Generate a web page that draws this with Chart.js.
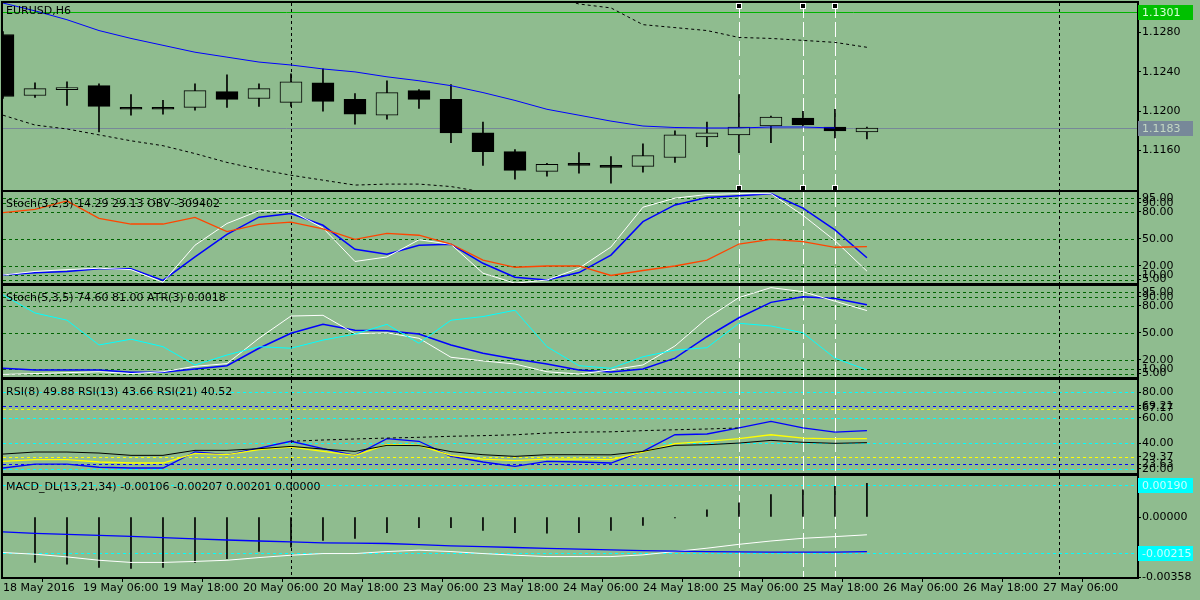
<!DOCTYPE html>
<html>
<head>
<meta charset="utf-8">
<script src="https://cdn.jsdelivr.net/npm/chart.js@4.4.0/dist/chart.umd.min.js"></script>
<style>
  html, body { margin: 0; padding: 0; width: 1200px; height: 600px; overflow: hidden; background: #8fbc8f; }
  canvas { position: absolute; left: 0; }
  .hdr { position: absolute; left: 6px; font: 11px "DejaVu Sans", sans-serif; line-height: 13px; color: #000; white-space: nowrap; z-index: 5; }
</style>
</head>
<body>
<canvas id="main" width="1200" height="205" style="top:-6px"></canvas>
<canvas id="stoch1" width="1200" height="109" style="top:183px"></canvas>
<canvas id="stoch2" width="1200" height="109" style="top:277px"></canvas>
<canvas id="rsi" width="1200" height="111" style="top:371px"></canvas>
<canvas id="macd" width="1200" height="133" style="top:467px"></canvas>

<div class="hdr" style="top:4px">EURUSD,H6</div>
<div class="hdr" style="top:197px">Stoch(3,2,3) 14.29 29.13 OBV -309402</div>
<div class="hdr" style="top:291px">Stoch(5,3,5) 74.60 81.00 ATR(3) 0.0018</div>
<div class="hdr" style="top:385px">RSI(8) 49.88 RSI(13) 43.66 RSI(21) 40.52</div>
<div class="hdr" style="top:480px">MACD_DL(13,21,34) -0.00106 -0.00207 0.00201 0.00000</div>

<script>
// ---- time axis (bar index positions) ----
const TIME_POS = [0, 2.5, 5, 7.5, 10, 12.5, 15, 17.5, 20, 22.5, 25, 27.5, 30, 32.5];
const TIME_LABELS = ["18 May 2016", "19 May 06:00", "19 May 18:00", "20 May 06:00", "20 May 18:00",
  "23 May 06:00", "23 May 18:00", "24 May 06:00", "24 May 18:00", "25 May 06:00",
  "25 May 18:00", "26 May 06:00", "26 May 18:00", "27 May 06:00"];
const X_MIN = 0, X_MAX = 35.44;
const VLINES_BLACK = [9, 33];
const VLINES_WHITE = [23, 25, 26];

// ---- EURUSD H6 candles ----
const OPEN  = [1.1278, 1.1216, 1.1222, 1.1226, 1.1204, 1.1204, 1.1204, 1.1220, 1.1213, 1.1209,
               1.1229, 1.1212, 1.1196, 1.1221, 1.1212, 1.1178, 1.1159, 1.1139, 1.1147, 1.1145,
               1.1144, 1.1153, 1.1174, 1.1176, 1.1185, 1.1193, 1.1184, 1.1179];
const HIGH  = [1.1281, 1.1229, 1.1230, 1.1228, 1.1217, 1.1211, 1.1228, 1.1237, 1.1228, 1.1238,
               1.1243, 1.1218, 1.1231, 1.1222, 1.1227, 1.1189, 1.1161, 1.1147, 1.1158, 1.1154,
               1.1167, 1.1180, 1.1189, 1.1217, 1.1195, 1.1200, 1.1202, 1.1184];
const LOW   = [1.1213, 1.1214, 1.1206, 1.1179, 1.1196, 1.1197, 1.1201, 1.1204, 1.1205, 1.1205,
               1.1200, 1.1187, 1.1192, 1.1203, 1.1168, 1.1145, 1.1131, 1.1134, 1.1137, 1.1127,
               1.1138, 1.1148, 1.1164, 1.1158, 1.1168, 1.1185, 1.1173, 1.1172];
const CLOSE = [1.1215, 1.1223, 1.1224, 1.1205, 1.1202, 1.1202, 1.1221, 1.1212, 1.1223, 1.1230,
               1.1210, 1.1197, 1.1219, 1.1212, 1.1178, 1.1159, 1.1140, 1.1146, 1.1145, 1.1143,
               1.1155, 1.1176, 1.1178, 1.1184, 1.1194, 1.1186, 1.1180, 1.1183];
const MA = [1.1310, 1.1302, 1.1293, 1.1282, 1.1274, 1.1267, 1.1260, 1.1255, 1.1250, 1.1247,
            1.1243, 1.1240, 1.1235, 1.1231, 1.1226, 1.1219, 1.1211, 1.1202, 1.1196, 1.1190,
            1.1185, 1.11835, 1.1183, 1.1183, 1.1184, 1.1184, 1.1183, null];
const BAND_UP = [null, null, null, null, null, null, null, null, null, null,
                 null, null, null, null, null, null, null, 1.1318, 1.1309, 1.1305,
                 1.1288, 1.1285, 1.1282, 1.1275, 1.1274, 1.1272, 1.1270, 1.1265];
const BAND_DN = [1.1196, 1.1186, 1.1182, 1.1176, 1.1170, 1.1165, 1.1157, 1.1148, 1.1141, 1.1135,
                 1.1130, 1.1125, 1.1126, 1.1126, 1.11235, 1.1118, null, null, null, null,
                 null, null, null, null, null, null, null, null];
const MAIN_TICKS = [1.1280, 1.1240, 1.1200, 1.1160];
const PRICE_HIGH = 1.1301;
const PRICE_BID = 1.1183;

// ---- Stoch(3,2,3) + OBV ----
const STOCH1_MAIN = [10, 14, 16, 17.5, 16, 2, 43, 67, 81, 81, 62, 25, 30, 49, 44, 12, 1, 4.5, 17.5, 41,
                     85, 95, 99, 100, 100, 76, 48, 14.29];
const STOCH1_SIG  = [10, 12.5, 14, 17, 17, 4, 30, 55, 74, 78, 65, 38.5, 33, 43, 44, 23, 7.5, 4.5, 12.7, 32,
                     69, 87.5, 95.6, 97.6, 100, 84, 60, 29.13];
const OBV_LINE    = [79, 82.6, 92, 72.7, 66.4, 66.4, 73.8, 58, 66, 68.6, 61, 49.5, 56, 54, 44.3, 26.6, 18.6, 20, 20, 9.5,
                     15, 20, 26.6, 44.3, 49.5, 47, 40.7, 41.4];
const STOCH_LEVELS = [95, 90, 80, 50, 20, 10, 5];

// ---- Stoch(5,3,5) + ATR ----
const STOCH2_MAIN = [4, 5, 6, 7, 5, 7, 13, 16, 44, 68.6, 69.4, 49, 50, 44, 23, 19, 15.6, 7, 4.5, 9,
                     14.5, 35.5, 66, 89, 100, 95.5, 85, 74.6];
const STOCH2_SIG  = [10.8, 9, 9, 9, 6.4, 6.4, 10, 13.7, 33, 49.5, 59.4, 53, 52.4, 48.7, 36.6, 27.4, 21, 15.6, 9, 6.7,
                     10, 22, 45.7, 66.7, 83.7, 90, 88, 81];
const ATR_LINE    = [92, 72, 64, 36.6, 43, 34.7, 14.5, 25.5, 34.7, 33, 42, 48.7, 59.4, 38.5, 64, 68, 75, 34.7, 13.7, 10.8,
                     23.6, 31, 33.6, 60.6, 57.6, 50, 22, 9];

// ---- RSI ----
const RSI8  = [20.7, 23.8, 23.8, 21.3, 20.7, 20.7, 33.2, 31.1, 36.3, 41.6, 35.8, 30.6, 43.6, 41.6, 29.8, 25.4, 22, 25.9, 25.4, 24.6,
               33.7, 46.7, 47.3, 52, 57.2, 52, 48.8, 49.88];
const RSI13 = [25.9, 27.2, 27.2, 25.4, 24.6, 24.6, 32.2, 31.1, 35, 37.1, 33.7, 30.6, 38.9, 38.4, 30.6, 27.7, 26.4, 27.7, 27.7, 27.2,
               33.2, 39.7, 41.6, 43.6, 46.7, 44.1, 43.4, 43.66];
const RSI21 = [31.6, 33.2, 33.2, 32.4, 30.6, 30.6, 34.5, 34.5, 35.8, 37.6, 35.5, 33.7, 38.4, 38.2, 33.5, 31.1, 29.8, 31.1, 31.1, 31,
               33.7, 38.4, 38.9, 40.2, 42.3, 40.8, 40, 40.52];
const RSI_TREND = [null, null, null, null, null, null, null, null, null, 41.6, 42.6, 43.4, 44.1, 44.7, 45.5, 46, 46.7, 48, 48.8, 49,
                   49.9, 50.6, 51.2, 52, null, null, null, null];
const RSI_TICKS = [80, 69.21, 67.17, 60, 40, 29.37, 23.63, 20];

// ---- MACD_DL ----
const MACD_HIST = [null, -0.00271, -0.00281, -0.00301, -0.00307, -0.00301, -0.00271, -0.00248, -0.00206, -0.0018,
                   -0.00139, -0.00127, -0.00093, -0.00064, -0.00064, -0.0008, -0.00093, -0.00097, -0.00093, -0.0008,
                   -0.0005, -0.00005, 0.00043, 0.00085, 0.00134, 0.00162, 0.00184, 0.00201];
const MACD_MAIN = [-0.00212, -0.00222, -0.00238, -0.00258, -0.00271, -0.00271, -0.00265, -0.00258, -0.00242, -0.00228,
                   -0.00218, -0.00218, -0.00206, -0.00198, -0.00206, -0.00218, -0.00228, -0.00236, -0.00236, -0.00236,
                   -0.00226, -0.00206, -0.00186, -0.00163, -0.00143, -0.00127, -0.00117, -0.00106];
const MACD_SIG  = [-0.00089, -0.00098, -0.00103, -0.00109, -0.00116, -0.00123, -0.0013, -0.00137, -0.00143, -0.00148,
                   -0.00154, -0.00156, -0.00158, -0.00165, -0.00172, -0.00177, -0.00182, -0.00187, -0.00192, -0.00196,
                   -0.002, -0.00203, -0.00206, -0.00208, -0.00209, -0.00209, -0.00209, -0.00207];
const MACD_TICKS = [0, -0.00358];
const MACD_UPPER = 0.0019, MACD_LOWER = -0.00215;

const BG = "#8fbc8f";
Chart.defaults.font.family = "'DejaVu Sans', sans-serif";
Chart.defaults.font.size = 11;
Chart.defaults.color = "#000";

const pts = (arr) => arr.map((v, i) => ({ x: i, y: v }));

const line = (arr, color, extra) => Object.assign({
  type: "line",
  data: pts(arr),
  borderColor: color,
  borderWidth: 1,
  pointRadius: 0,
  tension: 0,
  order: 0
}, extra || {});

// horizontal levels, vertical markers, pane frame and price boxes
const paneDeco = {
  id: "paneDeco",
  beforeDatasetsDraw(chart, args, opts) {
    const { ctx, chartArea: a, scales: { x, y } } = chart;
    ctx.save();
    ctx.beginPath();
    ctx.rect(a.left, a.top, a.width, a.height);
    ctx.clip();
    ctx.lineWidth = 1;
    (opts.levels || []).forEach((l) => {
      const py = Math.round(y.getPixelForValue(l.value)) + 0.5;
      ctx.strokeStyle = l.color;
      ctx.setLineDash(l.dash || []);
      ctx.beginPath();
      ctx.moveTo(a.left, py);
      ctx.lineTo(a.right, py);
      ctx.stroke();
    });
    VLINES_BLACK.forEach((i) => {
      const px = Math.round(x.getPixelForValue(i)) + 0.5;
      ctx.strokeStyle = "#000";
      ctx.setLineDash([3, 3]);
      ctx.beginPath();
      ctx.moveTo(px, a.top);
      ctx.lineTo(px, a.bottom);
      ctx.stroke();
    });
    VLINES_WHITE.forEach((i) => {
      const px = Math.round(x.getPixelForValue(i)) + 0.5;
      ctx.strokeStyle = "#fff";
      ctx.setLineDash([15, 4]);
      ctx.beginPath();
      ctx.moveTo(px, a.top);
      ctx.lineTo(px, a.bottom);
      ctx.stroke();
    });
    ctx.restore();
  },
  afterDraw(chart, args, opts) {
    const { ctx, chartArea: a, scales: { x, y } } = chart;
    ctx.save();
    ctx.setLineDash([]);
    ctx.strokeStyle = "#000";
    ctx.lineWidth = 2;
    ctx.strokeRect(a.left - 1, a.top - 1, a.width + 2, a.height + 2);
    if (opts.markers) {
      VLINES_WHITE.forEach((i) => {
        const px = Math.round(x.getPixelForValue(i));
        [a.top + 2, a.bottom - 3].forEach((py) => {
          ctx.fillStyle = "#fff";
          ctx.fillRect(px - 3, py - 2, 6, 6);
          ctx.fillStyle = "#000";
          ctx.fillRect(px - 2, py - 1, 4, 4);
        });
      });
    }
    (opts.boxes || []).forEach((b) => {
      const py = Math.round(y.getPixelForValue(b.value));
      ctx.fillStyle = b.bg;
      ctx.fillRect(a.right + 1, py - 7, 55, 15);
      ctx.fillStyle = b.fg;
      ctx.font = "11px 'DejaVu Sans', sans-serif";
      ctx.textBaseline = "middle";
      ctx.textAlign = "left";
      ctx.fillText(b.text, a.right + 5, py + 1);
    });
    ctx.restore();
  }
};
Chart.register(paneDeco);

function yScale(min, max, ticks, digits) {
  return {
    type: "linear",
    position: "right",
    min: min,
    max: max,
    afterBuildTicks: (s) => { s.ticks = ticks.map((v) => ({ value: v })); },
    afterFit: (s) => { s.width = 63; },
    grid: { drawOnChartArea: false, drawTicks: true, tickLength: 4, color: "#000" },
    border: { display: false },
    ticks: { autoSkip: false, padding: 1, color: "#000", callback: (v) => Number(v).toFixed(digits) }
  };
}

function xScale(show) {
  const s = { type: "linear", min: X_MIN, max: X_MAX, offset: false, display: show };
  if (show) {
    Object.assign(s, {
      afterBuildTicks: (sc) => { sc.ticks = TIME_POS.map((v) => ({ value: v })); },
      afterFit: (sc) => { sc.height = 23; },
      grid: { drawOnChartArea: false, drawTicks: true, tickLength: 5, color: "#000" },
      border: { display: false },
      ticks: { autoSkip: false, maxRotation: 0, align: "start", padding: 0, color: "#000",
               callback: (v, idx) => TIME_LABELS[idx] }
    });
  }
  return s;
}

function baseOptions(padTop, padBottom, deco, x, y) {
  return {
    responsive: false,
    animation: false,
    events: [],
    layout: { padding: { left: 3, right: 0, top: padTop, bottom: padBottom } },
    plugins: { legend: { display: false }, tooltip: { enabled: false }, paneDeco: deco },
    scales: { x: x, y: y }
  };
}

// ---- main pane ----
const bodies = OPEN.map((o, i) => ({ x: i, y: [o, CLOSE[i]] }));
const wicks = OPEN.map((o, i) => ({ x: i, y: [LOW[i], HIGH[i]] }));
const bodyFill = OPEN.map((o, i) => (CLOSE[i] >= o ? BG : "#000"));

new Chart(document.getElementById("main"), {
  type: "bar",
  data: {
    datasets: [
      line(MA, "#0000ff"),
      line(BAND_UP, "#000", { borderDash: [3, 3] }),
      line(BAND_DN, "#000", { borderDash: [3, 3] }),
      { type: "bar", data: bodies, backgroundColor: bodyFill, borderColor: "#000", borderWidth: 1,
        borderSkipped: false, barThickness: 22, minBarLength: 2, grouped: false, order: 1 },
      { type: "bar", data: wicks, backgroundColor: "#000", borderWidth: 0,
        barThickness: 1, grouped: false, order: 2 }
    ]
  },
  options: baseOptions(9, 9, {
    markers: true,
    levels: [
      { value: PRICE_HIGH, color: "#00b400" },
      { value: PRICE_BID, color: "#778899" }
    ],
    boxes: [
      { value: PRICE_HIGH, text: PRICE_HIGH.toFixed(4), bg: "#00c000", fg: "#d8ffd8" },
      { value: PRICE_BID, text: PRICE_BID.toFixed(4), bg: "#778899", fg: "#c4d8c4" }
    ]
  }, xScale(false), yScale(1.1120, 1.1310, MAIN_TICKS, 4))
});

// ---- stochastic panes ----
const stochLevels = STOCH_LEVELS.map((v) => ({ value: v, color: "#006400", dash: [3, 3] }));

new Chart(document.getElementById("stoch1"), {
  type: "line",
  data: {
    datasets: [
      line(OBV_LINE, "#ff4500", { borderWidth: 1.3 }),
      line(STOCH1_MAIN, "#ffffff"),
      line(STOCH1_SIG, "#0000ff", { borderWidth: 1.5 })
    ]
  },
  options: baseOptions(9, 9, { levels: stochLevels }, xScale(false), yScale(1.2, 101.8, STOCH_LEVELS, 2))
});

new Chart(document.getElementById("stoch2"), {
  type: "line",
  data: {
    datasets: [
      line(ATR_LINE, "#00ffff"),
      line(STOCH2_MAIN, "#ffffff"),
      line(STOCH2_SIG, "#0000ff", { borderWidth: 1.5 })
    ]
  },
  options: baseOptions(9, 9, { levels: stochLevels }, xScale(false), yScale(1.2, 101.8, STOCH_LEVELS, 2))
});

// ---- RSI pane ----
new Chart(document.getElementById("rsi"), {
  type: "line",
  data: {
    datasets: [
      line(RSI_TREND, "#000", { borderDash: [3, 3] }),
      line(RSI21, "#000"),
      line(RSI13, "#ffff00", { borderWidth: 1.3 }),
      line(RSI8, "#0000ff", { borderWidth: 1.3 })
    ]
  },
  options: baseOptions(9, 9, {
    levels: [
      { value: 80, color: "#00ffff", dash: [3, 3] },
      { value: 69.21, color: "#0000ff", dash: [3, 3] },
      { value: 67.17, color: "#ffff00", dash: [3, 3] },
      { value: 60, color: "#00ffff", dash: [3, 3] },
      { value: 40, color: "#00ffff", dash: [3, 3] },
      { value: 29.37, color: "#ffff00", dash: [3, 3] },
      { value: 23.63, color: "#0000ff", dash: [3, 3] },
      { value: 20, color: "#00ffff", dash: [3, 3] }
    ]
  }, xScale(false), yScale(16.8, 89.5, RSI_TICKS, 2))
});

// ---- MACD pane ----
new Chart(document.getElementById("macd"), {
  type: "bar",
  data: {
    datasets: [
      line(MACD_SIG, "#0000ff", { borderWidth: 1.3 }),
      line(MACD_MAIN, "#ffffff"),
      { type: "bar", data: pts(MACD_HIST), backgroundColor: "#000", borderWidth: 0,
        barThickness: 1, grouped: false, order: 1 }
    ]
  },
  options: baseOptions(9, 0, {
    levels: [
      { value: MACD_UPPER, color: "#00ffff", dash: [3, 3] },
      { value: MACD_LOWER, color: "#00ffff", dash: [3, 3] }
    ],
    boxes: [
      { value: MACD_UPPER, text: MACD_UPPER.toFixed(5), bg: "#00ffff", fg: "#c8ffff" },
      { value: MACD_LOWER, text: MACD_LOWER.toFixed(5), bg: "#00ffff", fg: "#c8ffff" }
    ]
  }, xScale(true), yScale(-0.00358, 0.00245, MACD_TICKS, 5))
});
</script>
</body>
</html>
